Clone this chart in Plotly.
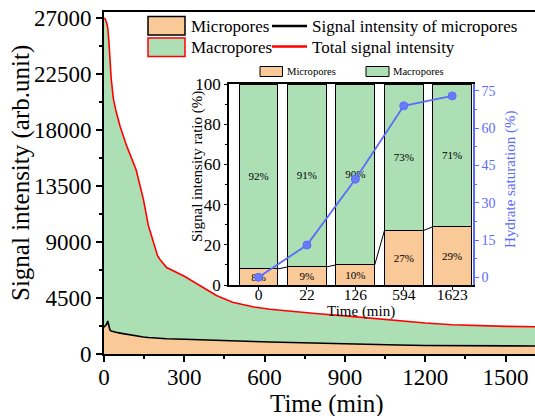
import plotly.graph_objects as go

# ---- main panel: NMR signal intensity versus time ----
time_min = [0, 5, 10, 14, 18, 22, 27, 35, 45, 60, 85, 120, 147, 166, 190, 200, 209, 234,
            300, 360, 420, 480, 560, 620, 700, 800, 900, 1000, 1100, 1200, 1300, 1400,
            1500, 1623]
total_signal = [27000, 26900, 26600, 26200, 25200, 23600, 22100, 20500, 19500, 18300, 16700,
                14800, 12450, 10300, 8450, 7900, 7600, 6950, 6250, 5470, 4700, 4150, 3780,
                3600, 3420, 3240, 3060, 2860, 2660, 2490, 2350, 2270, 2220, 2190]
micro_signal = [2150, 2280, 2400, 2650, 2350, 1950, 1850, 1790, 1740, 1680, 1580, 1460,
                1370, 1330, 1270, 1250, 1240, 1220, 1190, 1160, 1120, 1080, 1010, 970, 920,
                870, 820, 770, 720, 680, 665, 655, 650, 645]

# ---- inset: pore-size share of the signal and hydrate saturation ----
inset_times = ["0", "22", "126", "594", "1623"]
micro_ratio = [8, 9, 10, 27, 29]
macro_ratio = [92, 91, 90, 73, 71]
hydrate_sat = [0, 13, 39.5, 69, 73]

ORANGE = "rgb(250,201,152)"
GREEN = "rgb(173,223,180)"
BLUE = "rgb(90,108,250)"
FONT = "Times New Roman, Liberation Serif, DejaVu Serif, serif"

W, H = 535, 416
ML, MR, MT, MB = 104, 0, 12, 62
PW, PH = W - ML - MR, H - MT - MB


def px(x):
    return (x - ML) / PW


def py(y):
    return (H - MB - y) / PH


fig = go.Figure()

# macropores area (under the total curve), then micropores area on top
fig.add_trace(go.Scatter(x=time_min, y=total_signal, mode="lines", fill="tozeroy",
                         fillcolor=GREEN, line=dict(color="red", width=1.6),
                         showlegend=False, hoverinfo="skip"))
fig.add_trace(go.Scatter(x=time_min, y=micro_signal, mode="lines", fill="tozeroy",
                         fillcolor=ORANGE, line=dict(color="black", width=1.6),
                         showlegend=False, hoverinfo="skip"))

# inset stacked bars
bar_w = 0.8
idx = list(range(len(inset_times)))
fig.add_trace(go.Bar(x=idx, y=micro_ratio, xaxis="x2", yaxis="y2", width=bar_w,
                     marker=dict(color=ORANGE, line=dict(color="black", width=1)),
                     text=[f"{v}%" for v in micro_ratio], textposition="inside",
                     insidetextanchor="middle", textangle=0, constraintext="none",
                     textfont=dict(family=FONT, size=11, color="black"),
                     showlegend=False))
fig.add_trace(go.Bar(x=idx, y=macro_ratio, xaxis="x2", yaxis="y2", width=bar_w,
                     marker=dict(color=GREEN, line=dict(color="black", width=1)),
                     text=[f"{v}%" for v in macro_ratio], textposition="inside",
                     insidetextanchor="middle", textangle=0, constraintext="none",
                     textfont=dict(family=FONT, size=11, color="black"),
                     showlegend=False))

# connector lines between the tops of the micropore segments
cx, cy = [], []
for i in range(len(idx) - 1):
    cx += [idx[i] + bar_w / 2, idx[i + 1] - bar_w / 2, None]
    cy += [micro_ratio[i], micro_ratio[i + 1], None]
fig.add_trace(go.Scatter(x=cx, y=cy, xaxis="x2", yaxis="y2", mode="lines",
                         line=dict(color="black", width=1), showlegend=False,
                         hoverinfo="skip"))

# hydrate saturation on the right axis
fig.add_trace(go.Scatter(x=idx, y=hydrate_sat, xaxis="x2", yaxis="y3", mode="lines+markers",
                         line=dict(color=BLUE, width=1.8),
                         marker=dict(color="rgb(105,122,255)", size=8,
                                     line=dict(color=BLUE, width=1)),
                         showlegend=False))

tick_font = dict(family=FONT, size=23, color="black")

fig.update_layout(
    width=W, height=H,
    margin=dict(l=ML, r=MR, t=MT, b=MB, pad=0),
    paper_bgcolor="white", plot_bgcolor="white",
    barmode="stack", bargap=0.2,
    font=dict(family=FONT, color="black"),
    xaxis=dict(domain=[0, 1], range=[0, 1610], dtick=300, tick0=0,
               showline=True, linecolor="black", linewidth=2, mirror=True,
               ticks="outside", ticklen=6, tickwidth=2, tickcolor="black",
               ticklabelstandoff=-5,
               minor=dict(dtick=150, ticks="outside", ticklen=3, tickwidth=1.5,
                          tickcolor="black"),
               showgrid=False, zeroline=False, tickfont=tick_font),
    yaxis=dict(domain=[0, 1], range=[0, 27480], dtick=4500, tick0=0, tickformat="d",
               showline=True, linecolor="black", linewidth=2,
               ticks="outside", ticklen=6, tickwidth=2, tickcolor="black",
               minor=dict(dtick=2250, ticks="outside", ticklen=3, tickwidth=1.5,
                          tickcolor="black"),
               showgrid=False, zeroline=False, tickfont=tick_font),
    xaxis2=dict(domain=[px(229), px(473)], anchor="y2", range=[-0.61, 4.43],
                tickmode="array", tickvals=idx, ticktext=inset_times,
                showline=True, linecolor="black", linewidth=1.5, mirror=True,
                ticks="outside", ticklen=3, tickwidth=1.2, tickcolor="black",
                ticklabelstandoff=-8,
                showgrid=False, zeroline=False,
                tickfont=dict(family=FONT, size=15.5, color="black")),
    yaxis2=dict(domain=[py(285), py(84)], anchor="x2", range=[0, 100], dtick=20,
                showline=True, linecolor="black", linewidth=1.5,
                ticks="outside", ticklen=3, tickwidth=1.2, tickcolor="black",
                minor=dict(dtick=10, ticks="outside", ticklen=2, tickcolor="black"),
                showgrid=False, zeroline=False,
                tickfont=dict(family=FONT, size=17, color="black")),
    yaxis3=dict(overlaying="y2", anchor="x2", side="right", range=[-3.1, 77.8],
                tickmode="array", tickvals=[0, 15, 30, 45, 60, 75],
                showline=True, linecolor=BLUE, linewidth=1.5,
                ticks="outside", ticklen=4, tickwidth=1.2, tickcolor=BLUE,
                minor=dict(tickvals=[7.5, 22.5, 37.5, 52.5, 67.5], ticks="outside",
                           ticklen=2, tickcolor=BLUE),
                showgrid=False, zeroline=False,
                tickfont=dict(family=FONT, size=14, color=BLUE)),
)

shapes = []
ann = []


def text(x, y, s, size, color="black", angle=0, xanchor="left"):
    ann.append(dict(x=px(x), y=py(y), xref="paper", yref="paper", text=s, showarrow=False,
                    xanchor=xanchor, yanchor="middle", textangle=angle,
                    font=dict(family=FONT, size=size, color=color)))


def rect(x0, y0, x1, y1, fill, edge, w):
    shapes.append(dict(type="rect", xref="paper", yref="paper", x0=px(x0), x1=px(x1),
                       y0=py(y1), y1=py(y0), fillcolor=fill, line=dict(color=edge, width=w)))


def hline(x0, x1, y, color, w):
    shapes.append(dict(type="line", xref="paper", yref="paper", x0=px(x0), x1=px(x1),
                       y0=py(y), y1=py(y), line=dict(color=color, width=w)))


# main legend
rect(148, 16.5, 185, 35, ORANGE, "black", 1.5)
text(189, 26, "Micropores", 17)
rect(148, 38, 185, 56.5, GREEN, "red", 1.5)
text(189, 47, "Macropores", 17)
hline(272, 307, 26, "black", 2.5)
text(310, 26, "Signal intensity of micropores", 17)
hline(272, 307, 46.5, "red", 2.5)
text(310, 47, "Total signal intensity", 17)

# inset legend
rect(260, 66.5, 282.5, 76.5, ORANGE, "black", 1)
text(285, 71.5, "Micropores", 10.6)
rect(366, 66.5, 389, 76.5, GREEN, "black", 1)
text(391, 71.5, "Macropores", 10.6)

# axis titles
text(21, 173, "Signal intensity (arb.unit)", 25, angle=-90, xanchor="center")
text(327, 404, "Time (min)", 25, xanchor="center")
text(197, 167, "Signal intensity ratio (%)", 15, angle=-90, xanchor="center")
text(510, 180, "Hydrate saturation (%)", 15, color=BLUE, angle=-90, xanchor="center")
text(361, 311, "Time (min)", 15, xanchor="center")

fig.update_layout(shapes=shapes, annotations=ann)
fig.write_html("out.html")
